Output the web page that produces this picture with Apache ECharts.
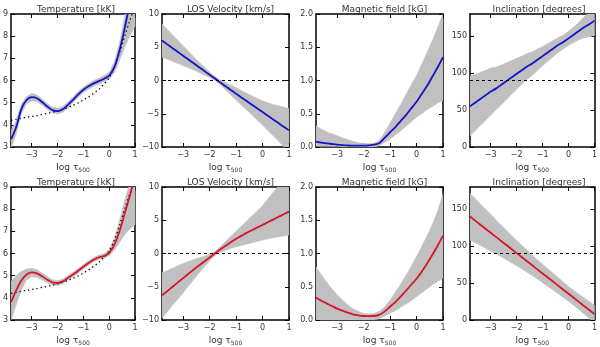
<!DOCTYPE html>
<html>
<head>
<meta charset="utf-8">
<script src="https://cdn.jsdelivr.net/npm/echarts@6/dist/echarts.min.js"></script>
<style>
  html, body { margin: 0; padding: 0; background: #fff; }
  #chart { width: 600px; height: 347px; }
</style>
</head>
<body>
<div id="chart"></div>
<script>
// x grid shared by every panel (log tau_500)
const logTau = [-3.8,-3.6,-3.4,-3.2,-3.0,-2.8,-2.6,-2.4,-2.2,-2.0,-1.8,-1.6,-1.4,-1.2,-1.0,-0.8,-0.6,-0.4,-0.2,0.0,0.2,0.4,0.6,0.8,1.0];
const xTicks = [-3, -2, -1, 0, 1];

const titles = ['Temperature [kK]', 'LOS Velocity [km/s]', 'Magnetic field [kG]', 'Inclination [degrees]'];

// reference model (dotted) for temperature
const tempRef = [4.2,4.25,4.3,4.34,4.38,4.42,4.47,4.52,4.57,4.63,4.7,4.78,4.88,4.99,5.12,5.26,5.42,5.6,5.85,6.12,6.6,7.25,8.0,8.7,9.4];

// --- top row (blue) ---
const tempBlue = [3.35,3.9,4.72,5.12,5.25,5.2,5.03,4.83,4.67,4.62,4.7,4.9,5.13,5.37,5.58,5.74,5.87,5.97,6.08,6.22,6.6,7.35,8.35,9.5,10.6];
const tempBlueLo = [2.95,3.6,4.5,4.95,5.08,5.05,4.89,4.7,4.54,4.49,4.57,4.77,5.0,5.24,5.45,5.61,5.74,5.84,5.94,6.06,6.35,6.9,7.5,8.0,8.45];
const tempBlueHi = [3.75,4.2,4.94,5.29,5.42,5.35,5.17,4.96,4.8,4.75,4.83,5.03,5.26,5.5,5.71,5.87,6.0,6.1,6.22,6.38,6.85,7.7,8.9,10.0,11.0];

const velBlue = [6.0,5.43,4.86,4.29,3.72,3.15,2.58,2.0,1.43,0.86,0.29,-0.28,-0.85,-1.42,-1.99,-2.55,-3.1,-3.65,-4.2,-4.75,-5.3,-5.85,-6.4,-6.95,-7.5];
const velBlueLo = [3.5,3.18,2.86,2.54,2.22,1.9,1.58,1.2,0.83,0.46,-0.01,-0.63,-1.4,-2.17,-2.94,-3.7,-4.45,-5.2,-5.95,-6.7,-7.5,-8.3,-9.1,-9.95,-10.7];
const velBlueHi = [8.5,7.68,6.86,6.04,5.22,4.4,3.58,2.8,2.03,1.26,0.59,0.07,-0.3,-0.67,-1.1,-1.5,-1.9,-2.3,-2.7,-3.05,-3.35,-3.6,-3.8,-4.0,-4.2];

const magBlue = [0.08,0.065,0.055,0.045,0.035,0.028,0.023,0.02,0.02,0.02,0.025,0.035,0.06,0.14,0.22,0.3,0.39,0.48,0.58,0.68,0.8,0.92,1.06,1.2,1.35];
const magBlueLo = [0.01,0.01,0.01,0.01,0.01,0.0,0.0,0.0,0.0,0.0,0.0,0.0,0.02,0.07,0.12,0.18,0.24,0.31,0.38,0.45,0.5,0.56,0.61,0.66,0.7];
const magBlueHi = [0.32,0.27,0.23,0.2,0.17,0.14,0.11,0.085,0.065,0.055,0.05,0.06,0.1,0.22,0.36,0.5,0.64,0.79,0.94,1.08,1.25,1.43,1.6,1.8,2.0];

const incBlue = [55,60,65,70,75,79,84,89,94,99,104,109,113,118,123,128,133,138,142,147,152,157,162,166,171];
const incBlueLo = [15,22,29,36,43,50,57,64,71,78,85,91.5,97,103.5,110,116,122,128,132.5,137.5,141.5,145,148,149,151];
const incBlueHi = [96,98,101,104,107,108,111,114,117,120,123,126.5,129,132.5,136,140,144,148,151.5,156.5,162.5,169,176,183,191];

// --- bottom row (red) ---
const tempRed = [3.8,4.35,4.78,5.05,5.15,5.1,4.97,4.82,4.7,4.67,4.74,4.9,5.05,5.22,5.4,5.57,5.72,5.83,5.88,6.03,6.4,7.0,7.8,8.6,9.5];
const tempRedLo = [3.0,3.7,4.35,4.8,4.95,4.93,4.82,4.68,4.58,4.56,4.64,4.8,4.95,5.12,5.3,5.47,5.62,5.73,5.77,5.9,6.15,6.5,6.85,7.1,7.3];
const tempRedHi = [4.75,5.0,5.2,5.3,5.33,5.28,5.12,4.96,4.82,4.78,4.84,5.0,5.15,5.32,5.5,5.67,5.82,5.93,5.99,6.18,6.7,7.5,8.4,9.2,9.8];

const velRed = [-6.3,-5.65,-5.0,-4.35,-3.7,-3.05,-2.4,-1.8,-1.2,-0.6,0.0,0.6,1.15,1.7,2.2,2.65,3.1,3.5,3.9,4.3,4.7,5.1,5.5,5.9,6.3];
const velRedLo = [-9.7,-8.75,-7.8,-6.85,-5.9,-4.9,-3.9,-2.95,-2.0,-1.1,-0.3,0.15,0.45,0.75,1.0,1.2,1.4,1.6,1.8,2.0,2.2,2.35,2.5,2.65,2.8];
const velRedHi = [-2.9,-2.55,-2.2,-1.85,-1.5,-1.2,-0.9,-0.65,-0.4,-0.1,0.3,1.05,1.8,2.6,3.35,4.1,4.9,5.65,6.4,7.2,8.2,9.2,10.2,11.0,11.8];

const magRed = [0.34,0.29,0.25,0.21,0.17,0.14,0.11,0.085,0.07,0.06,0.058,0.06,0.08,0.13,0.2,0.27,0.35,0.44,0.53,0.62,0.73,0.85,0.98,1.12,1.27];
const magRedLo = [0.0,0.0,0.0,0.0,0.0,0.0,0.0,0.0,0.0,0.0,0.0,0.0,0.02,0.06,0.1,0.14,0.19,0.24,0.29,0.35,0.41,0.47,0.53,0.58,0.63];
const magRedHi = [0.8,0.68,0.57,0.47,0.38,0.3,0.23,0.17,0.13,0.1,0.09,0.1,0.13,0.2,0.3,0.42,0.54,0.67,0.81,0.96,1.11,1.27,1.44,1.64,1.9];

const incRed = [140,134.5,129,123.5,118,112.5,107,101.5,96,90.5,85,79.5,74,68.5,63,57.5,52,46.5,41,35.5,30,24.5,19,13.5,8];
const incRedLo = [108,104.5,101,97,93,89.5,85.5,81.5,77.5,73.5,69,64.5,60,55.5,50.5,45.5,40.5,35.5,30.5,25.5,20,14,8,2,-4];
const incRedHi = [172,164.5,157,150,143,135.5,128.5,121.5,114.5,107.5,101,94.5,88,81.5,75.5,69.5,63.5,57.5,51.5,45.5,40,35,30,25,20];

// y axis ranges per column
const yRanges = [
  { min: 3, max: 9, interval: 1 },
  { min: -10, max: 10, interval: 5 },
  { min: 0, max: 2, interval: 0.5, digits: 1 },
  { min: 0, max: 180, interval: 50 }
];

const COLORS = {
  blue: '#1414c8',
  red: '#d8142a',
  band: '#c0c0c0',
  axis: '#000',
  text: '#333'
};

// panel layout in pixels
const colLeft = [7, 162, 316, 470];
const colWidth = [128, 127, 127, 128];
const rowTop = [14, 187];
const rowHeight = [133, 134];

const panels = [
  { mid: tempBlue, lo: tempBlueLo, hi: tempBlueHi, color: COLORS.blue, ref: tempRef },
  { mid: velBlue, lo: velBlueLo, hi: velBlueHi, color: COLORS.blue, hline: 0 },
  { mid: magBlue, lo: magBlueLo, hi: magBlueHi, color: COLORS.blue },
  { mid: incBlue, lo: incBlueLo, hi: incBlueHi, color: COLORS.blue, hline: 90 },
  { mid: tempRed, lo: tempRedLo, hi: tempRedHi, color: COLORS.red, ref: tempRef },
  { mid: velRed, lo: velRedLo, hi: velRedHi, color: COLORS.red, hline: 0 },
  { mid: magRed, lo: magRedLo, hi: magRedHi, color: COLORS.red },
  { mid: incRed, lo: incRedLo, hi: incRedHi, color: COLORS.red, hline: 90 }
];

const pairs = (ys) => logTau.map((x, k) => [x, ys[k]]);
const minus = (s) => String(s).replace('-', '\u2212');
const FONT = 'DejaVu Sans';

const grid = [], xAxis = [], yAxis = [], series = [], title = [];
const topX = [], rightY = [];

// gray band as one polygon: upper edge forward, lower edge back
const bandRenderer = (lo, hi) => (params, api) => {
  if (params.dataIndex !== 0) return null;
  const pts = [];
  for (let k = 0; k < logTau.length; k++) pts.push(api.coord([logTau[k], hi[k]]));
  for (let k = logTau.length - 1; k >= 0; k--) pts.push(api.coord([logTau[k], lo[k]]));
  return {
    type: 'polygon',
    shape: { points: pts },
    style: { fill: COLORS.band, stroke: COLORS.band, lineWidth: 0.5 }
  };
};

panels.forEach((p, i) => {
  const col = i % 4, row = Math.floor(i / 4);
  const yr = yRanges[col];

  grid.push({ left: colLeft[col], top: rowTop[row], width: colWidth[col], height: rowHeight[row] });

  title.push({
    text: titles[col],
    left: colLeft[col] + colWidth[col] / 2,
    top: rowTop[row] - 14,
    textAlign: 'center',
    textStyle: { fontFamily: FONT, fontSize: 9, fontWeight: 'normal', color: COLORS.text }
  });

  const tickStyle = { show: true, inside: true, length: 4, lineStyle: { color: COLORS.axis, width: 1 } };

  xAxis.push({
    type: 'value', gridIndex: i, min: -3.8, max: 1, position: 'bottom',
    axisLine: { show: true, onZero: false, lineStyle: { color: COLORS.axis, width: 1.5 } },
    axisTick: Object.assign({ customValues: xTicks }, tickStyle),
    axisLabel: { customValues: xTicks, fontFamily: FONT, fontSize: 8, color: COLORS.text, margin: 4, formatter: minus },
    splitLine: { show: false },
    name: '{n|log \u03c4}{s|500}',
    nameLocation: 'middle', nameGap: 15,
    nameTextStyle: {
      rich: {
        n: { fontFamily: FONT, fontSize: 9, color: COLORS.text },
        s: { fontFamily: FONT, fontSize: 6, color: COLORS.text, padding: [5, 0, 0, 0] }
      }
    }
  });
  topX.push({
    type: 'value', gridIndex: i, min: -3.8, max: 1, position: 'top',
    axisLine: { show: true, onZero: false, lineStyle: { color: COLORS.axis, width: 1.5 } },
    axisTick: Object.assign({ customValues: xTicks }, tickStyle),
    axisLabel: { show: false },
    splitLine: { show: false }
  });

  yAxis.push({
    type: 'value', gridIndex: i, min: yr.min, max: yr.max, interval: yr.interval, position: 'left',
    axisLine: { show: true, onZero: false, lineStyle: { color: COLORS.axis, width: 1.5 } },
    axisTick: tickStyle,
    axisLabel: {
      fontFamily: FONT, fontSize: 8, color: COLORS.text, margin: 3,
      showMaxLabel: yr.max % yr.interval === 0,
      formatter: (v) => minus(yr.digits ? v.toFixed(yr.digits) : v)
    },
    splitLine: { show: false }
  });
  rightY.push({
    type: 'value', gridIndex: i, min: yr.min, max: yr.max, interval: yr.interval, position: 'right',
    axisLine: { show: true, onZero: false, lineStyle: { color: COLORS.axis, width: 1.5 } },
    axisTick: tickStyle,
    axisLabel: { show: false },
    splitLine: { show: false }
  });

  series.push({
    type: 'custom', xAxisIndex: i, yAxisIndex: i, clip: true, silent: true, z: 1,
    data: logTau.map((x, k) => [x, p.lo[k], p.hi[k]]),
    encode: { x: 0, y: [1, 2] },
    renderItem: bandRenderer(p.lo, p.hi)
  });

  if (p.ref) {
    series.push({
      type: 'line', xAxisIndex: i, yAxisIndex: i, data: pairs(p.ref), symbol: 'none', smooth: 0.3,
      lineStyle: { color: '#000', width: 1.3, type: [1.3, 3] }, z: 2
    });
  }

  const mid = {
    type: 'line', xAxisIndex: i, yAxisIndex: i, data: pairs(p.mid), symbol: 'none', smooth: 0.3,
    lineStyle: { color: p.color, width: 1.8 }, z: 3
  };
  if (p.hline !== undefined) {
    mid.markLine = {
      silent: true, symbol: 'none', label: { show: false },
      lineStyle: { color: '#000', width: 1, type: [3, 3] },
      data: [{ yAxis: p.hline }]
    };
  }
  series.push(mid);
});

const chart = echarts.init(document.getElementById('chart'));
chart.setOption({
  animation: false,
  backgroundColor: '#fff',
  title,
  grid,
  xAxis: xAxis.concat(topX),
  yAxis: yAxis.concat(rightY),
  series
});
</script>
</body>
</html>
